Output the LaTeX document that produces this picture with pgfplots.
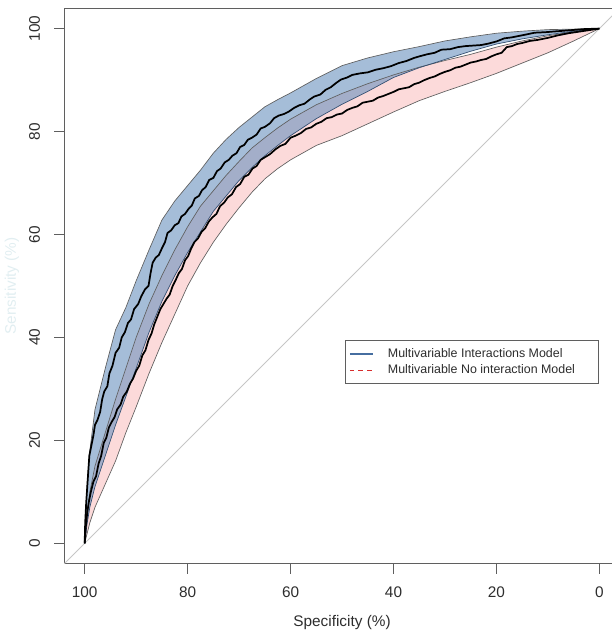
\documentclass[border=0pt]{standalone}
\usepackage{fontspec}
\setmainfont{Liberation Sans}
\usepackage{pgfplots}
\usepackage{pgfplotstable}
\pgfplotsset{compat=1.18}
\usepgfplotslibrary{fillbetween}

\definecolor{bandblue}{RGB}{105,145,190}
\definecolor{bandpink}{RGB}{252,218,218}
\definecolor{edgegray}{RGB}{95,95,95}
\definecolor{txtgray}{RGB}{45,45,45}
\definecolor{legblue}{RGB}{70,110,160}
\definecolor{legred}{RGB}{215,45,45}

% confidence bands (specificity, upper/lower of each model)
\pgfplotstableread{
spec bu   pu   bl   pl
100  0    0    0    0
99.5 12   6    4    2
99   18   10   7    4
98   26   15   11   7
96   34   21.5 17   11.5
94   41.5 28   23   16
92   45.8 34   28.5 21.5
90   51   40   34   26.5
87.5 57   46.5 41   33
85   62.8 52   47   39
82.5 66.5 57   52   44.5
80   69.5 61.5 56.5 50
77.5 72.5 65.5 60.5 54.5
75   75.8 68.5 64.5 58.5
72.5 78.5 71.5 67.5 62
70   80.8 74.2 70.5 65.2
67.5 82.8 76.8 73   68.2
65   84.8 78.8 75.3 70.8
62.5 86.2 80.7 77.3 72.8
60   87.5 82.4 79.2 74.5
55   90.3 85.2 82.5 77.3
50   92.8 87.4 85.3 79.2
45   94.3 89.3 87.8 81.5
40   95.5 91.0 90.5 83.8
35   96.5 92.5 92.4 86
30   97.6 93.8 94.0 87.8
25   98.4 95.0 95.6 89.5
20   99.1 96.4 97.0 91.3
15   99.5 97.6 98.0 93.3
10   99.8 98.6 98.8 95.3
5    99.9 99.4 99.5 97.6
0    100  100  100  100
}\bands

% ROC, interactions model
\pgfplotstableread{
spec sens
100 0
99.9 4
99.7 8
99.5 11
99.3 14
99.1 17
98.7 19
98.3 21
98.0 23
97.5 24
97.0 25.5
96.6 28
96.2 29.5
95.6 30.5
95.2 33
94.6 34.5
94.0 37
93.3 38
92.8 40
92.2 41
91.6 42.8
91.0 43.5
90.4 45.5
89.6 46.5
89.0 48
88.3 49.3
87.6 50
87.2 52.5
86.8 54.5
86.2 55.5
85.6 56
85.0 57.3
84.4 58.5
83.9 60.3
83.2 60.8
82.5 61.8
81.8 62.2
81.2 63.5
80.5 64
79.8 65
79.2 65.6
78.6 67
77.8 67.5
77.2 68.6
76.5 69.2
75.8 70.6
75.0 71
74.3 72.3
73.6 72.8
72.8 74
72.0 74.5
71.3 75.3
70.5 75.8
69.8 77
69.0 77.4
68.3 78.4
67.5 78.8
66.6 79.4
65.8 80.6
65.0 80.9
64.0 81.6
63.2 82.6
62.3 83.1
61.3 83.4
60.3 83.9
59.3 84.6
58.3 85.1
57.3 85.4
56.3 86.2
55.4 86.8
54.2 87.2
53.2 88.1
52.2 88.6
51.2 89.4
50.2 90.1
49.0 90.5
48.0 91.0
46.5 91.3
45.0 91.5
43.5 92.0
42.0 92.3
40.5 92.7
39.0 93.3
37.5 93.7
36.0 94.3
35.0 94.6
33.5 95.0
32.0 95.3
30.7 95.9
29.0 96.0
27.5 96.4
26.0 96.6
24.5 96.7
23.0 96.8
21.5 97.1
20.0 97.5
18.5 98.1
17.0 98.3
15.5 98.6
14.0 98.9
12.6 99.2
10.5 99.3
8.0 99.5
5.5 99.7
3.0 99.9
0 100
}\rocA

% ROC, no interaction model
\pgfplotstableread{
spec sens
100 0
99.8 3
99.5 6
99.2 8
98.8 10
98.3 12
97.8 13
97.3 15.5
96.8 17
96.3 19.5
95.8 20.5
95.3 22.5
94.8 23.5
94.2 24.5
93.7 26
93.0 27
92.5 28.5
91.8 29.5
91.2 31
90.6 32
90.0 33.5
89.4 34.5
88.8 36.5
88.2 37.5
87.6 39.5
87.0 40.8
86.5 42.5
85.9 44
85.3 45.5
84.7 46.5
84.1 47.5
83.5 48.3
82.9 50
82.3 51.2
81.7 52.5
81.1 53.3
80.5 55
79.9 55.8
79.3 57.3
78.7 58.5
78.0 59.2
77.3 60.5
76.6 61.2
75.9 62.5
75.2 63.3
74.4 64
73.7 65.5
72.9 66.2
72.2 67.2
71.4 67.8
70.6 69.2
69.8 69.8
69.0 71.2
68.2 71.6
67.4 72.8
66.6 73.3
65.8 74.5
65.0 75
64.0 75.6
63.0 76.5
62.0 77.2
61.0 77.6
60.0 78.8
59.0 79.2
58.0 79.7
57.0 80.5
56.0 80.8
55.0 81.5
54.0 81.9
53.0 82.6
52.0 82.8
51.0 83.3
50.0 83.5
49.0 84.2
48.0 84.6
47.0 84.9
46.0 85.6
45.0 85.8
44.0 86.0
43.0 86.6
42.0 86.9
41.0 87.3
40.0 87.7
39.0 88.2
38.0 88.4
37.0 88.6
36.0 89.2
35.0 89.5
34.0 90.0
33.0 90.4
32.0 90.7
31.0 91.2
30.0 91.6
29.0 91.9
28.0 92.4
27.0 92.6
26.0 93.0
25.0 93.4
24.0 93.6
23.0 93.9
22.0 94.1
21.0 94.6
20.0 95.0
19.0 95.3
18.0 96.4
17.0 96.6
16.0 97.0
15.0 97.2
13.5 97.6
12.0 97.8
10.0 98.2
8.0 98.7
6.0 99.1
4.0 99.4
2.0 99.7
0 100
}\rocB

\begin{document}
\begin{tikzpicture}
\begin{axis}[
    name=ax,
    scale only axis,
    width=416.3pt, height=416.3pt,
    xmin=-4, xmax=104, ymin=-4, ymax=104,
    x dir=reverse,
    xtick={0,20,...,100}, ytick={0,20,...,100},
    tick pos=left,
    tick align=outside,
    major tick length=7.5pt,
    tick style={edgegray, line width=0.6pt},
    axis line style={edgegray, line width=0.7pt},
    ticklabel style={font=\fontsize{11.5}{13}\selectfont, text=txtgray},
    /pgf/number format/assume math mode=true,
    xticklabel style={yshift=-6pt},
    yticklabel style={xshift=-7pt, rotate=90, anchor=south},
    xlabel={Specificity (\%)},
    xlabel style={at={(rel axis cs:0.5,0)}, anchor=center, yshift=-44pt,
        font=\fontsize{11.5}{13}\selectfont, text=txtgray},
    legend style={at={(axis cs:0,39.5)}, anchor=north east,
        draw=edgegray, line width=0.7pt, fill=white,
        font=\fontsize{9.3}{12}\selectfont, text=txtgray,
        inner xsep=3pt, inner ysep=4pt},
    legend cell align=left,
]

% chance line
\addplot[gray!45, line width=0.6pt, forget plot] coordinates {(104,-4) (-4,104)};

% no-interaction band
\addplot[draw=none, name path=pu, forget plot] table[x=spec, y=pu] {\bands};
\addplot[draw=none, name path=pl, forget plot] table[x=spec, y=pl] {\bands};
\addplot[bandpink, forget plot] fill between[of=pu and pl];

% interaction band
\addplot[draw=none, name path=bu, forget plot] table[x=spec, y=bu] {\bands};
\addplot[draw=none, name path=bl, forget plot] table[x=spec, y=bl] {\bands};
\addplot[bandblue, fill opacity=0.6, forget plot] fill between[of=bu and bl];

% band edges
\addplot[edgegray, line width=0.5pt, forget plot] table[x=spec, y=pu] {\bands};
\addplot[edgegray, line width=0.5pt, forget plot] table[x=spec, y=pl] {\bands};
\addplot[edgegray, line width=0.5pt, forget plot] table[x=spec, y=bu] {\bands};
\addplot[legblue!70!black, line width=0.5pt, forget plot] table[x=spec, y=bl] {\bands};

% ROC curves
\addplot[black, line width=1.3pt, forget plot] table[x=spec, y=sens] {\rocB};
\addplot[black, line width=1.3pt, forget plot] table[x=spec, y=sens] {\rocA};

\addlegendimage{legblue, line width=0.8pt}
\addlegendentry{\makebox[162pt][l]{\hspace{9pt}Multivariable Interactions Model}}
\addlegendimage{legred, line width=1pt, dash pattern=on 3.5pt off 3pt}
\addlegendentry{\makebox[162pt][l]{\hspace{9pt}Multivariable No interaction Model}}
\end{axis}

\node[rotate=90, text={rgb,255:red,225;green,238;blue,241}, font=\fontsize{11.5}{13}\selectfont]
    at ([xshift=-39pt]ax.west) {Sensitivity (\%)};

\pgfresetboundingbox
\path[use as bounding box] ([xshift=-48pt,yshift=-50.25pt]ax.south west)
    rectangle ([xshift=410.25pt,yshift=6pt]ax.north west);
\end{tikzpicture}
\end{document}
